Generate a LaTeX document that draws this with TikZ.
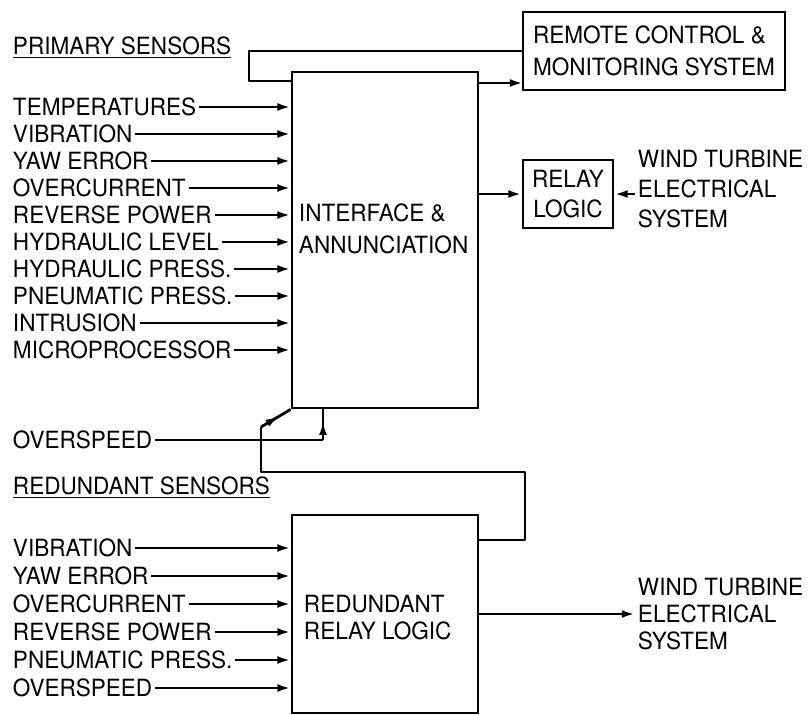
\documentclass[tikz,border=0pt]{standalone}
\usepackage{fontspec}
\setmainfont{TeX Gyre Heros}[FakeStretch=0.95]
\usepackage{tikz}
\usetikzlibrary{arrows.meta,positioning,calc,decorations.markings}

\begin{document}
\begin{tikzpicture}[>={Latex[length=7.5pt,width=4.5pt]},
  font=\fontsize{13.5}{16}\selectfont,
  blk/.style={draw,line width=1.6pt,inner sep=0pt},
  lbl/.style={anchor=west,inner sep=1.5pt},
  wire/.style={line width=1.6pt,line join=round},
  sig/.style={wire,->},
  midarr/.style={wire,postaction={decorate},
    decoration={markings,mark=at position 0.6 with {\arrow{>}}}}]
  \useasboundingbox (0,0) rectangle (16.22,-14.3);
  % blocks
  \node[blk,minimum width=3.72cm,minimum height=6.72cm] (iface) at (7.7,-4.8) {};
  \node[lbl,align=left,font=\fontsize{13.5}{18}\selectfont] (ifacetxt) at (5.92,-4.58) {INTERFACE \&\\ANNUNCIATION};
  \node[blk,minimum width=5.24cm,minimum height=1.56cm,align=left,font=\fontsize{13.5}{18.5}\selectfont] (remote) at (13.08,-1.02) {REMOTE CONTROL \&\\MONITORING SYSTEM};
  \node[blk,minimum width=1.8cm,minimum height=1.36cm,align=center,font=\fontsize{13.5}{17}\selectfont] (relay) at (11.36,-3.88) {RELAY\\LOGIC};
  \node[lbl,align=left,font=\fontsize{13.5}{17}\selectfont] (wtesa) at (12.7,-3.78) {WIND TURBINE\\ELECTRICAL\\SYSTEM};
  \node[blk,minimum width=3.72cm,minimum height=3.96cm] (redund) at (7.7,-12.28) {};
  \node[lbl,align=left,font=\fontsize{13.5}{15.5}\selectfont] (redundtxt) at (6.02,-12.35) {REDUNDANT\\RELAY LOGIC};
  \node[lbl,align=left,font=\fontsize{13.5}{15.6}\selectfont] (wtesb) at (12.7,-12.28) {WIND TURBINE\\ELECTRICAL\\SYSTEM};
  % sensor lists
  \node[lbl] (phead) at (0.2,-0.96) {\underline{PRIMARY SENSORS}};
  \node[lbl] (p1) at (0.2,-2.14) {TEMPERATURES};
  \node[lbl] (p2) at (0.2,-2.68) {VIBRATION};
  \node[lbl] (p3) at (0.2,-3.22) {YAW ERROR};
  \node[lbl] (p4) at (0.2,-3.76) {OVERCURRENT};
  \node[lbl] (p5) at (0.2,-4.30) {REVERSE POWER};
  \node[lbl] (p6) at (0.2,-4.84) {HYDRAULIC LEVEL};
  \node[lbl] (p7) at (0.2,-5.38) {HYDRAULIC PRESS.};
  \node[lbl] (p8) at (0.2,-5.92) {PNEUMATIC PRESS.};
  \node[lbl] (p9) at (0.2,-6.46) {INTRUSION};
  \node[lbl] (p10) at (0.2,-7.00) {MICROPROCESSOR};
  \node[lbl] (ospa) at (0.2,-8.80) {OVERSPEED};
  \node[lbl] (rhead) at (0.2,-9.76) {\underline{REDUNDANT SENSORS}};
  \node[lbl] (r1) at (0.2,-10.96) {VIBRATION};
  \node[lbl] (r2) at (0.2,-11.52) {YAW ERROR};
  \node[lbl] (r3) at (0.2,-12.08) {OVERCURRENT};
  \node[lbl] (r4) at (0.2,-12.64) {REVERSE POWER};
  \node[lbl] (r5) at (0.2,-13.20) {PNEUMATIC PRESS.};
  \node[lbl] (r6) at (0.2,-13.76) {OVERSPEED};
  % inputs
  \draw[sig] (p1.east) -- (p1 -| iface.west);
  \draw[sig] (p2.east) -- (p2 -| iface.west);
  \draw[sig] (p3.east) -- (p3 -| iface.west);
  \draw[sig] (p4.east) -- (p4 -| iface.west);
  \draw[sig] (p5.east) -- (p5 -| iface.west);
  \draw[sig] (p6.east) -- (p6 -| iface.west);
  \draw[sig] (p7.east) -- (p7 -| iface.west);
  \draw[sig] (p8.east) -- (p8 -| iface.west);
  \draw[sig] (p9.east) -- (p9 -| iface.west);
  \draw[sig] (p10.east) -- (p10 -| iface.west);
  \draw[sig] (r1.east) -- (r1 -| redund.west);
  \draw[sig] (r2.east) -- (r2 -| redund.west);
  \draw[sig] (r3.east) -- (r3 -| redund.west);
  \draw[sig] (r4.east) -- (r4 -| redund.west);
  \draw[sig] (r5.east) -- (r5 -| redund.west);
  \draw[sig] (r6.east) -- (r6 -| redund.west);
  % overspeed and contact
  \coordinate (osp) at (6.46,-8.80);
  \coordinate (sw) at (5.22,-9.44);
  \coordinate (swtop) at (5.22,-8.54);
  \coordinate (bend) at (10.5,-9.44);
  \coordinate (rout) at (10.5,-10.8);
  \draw[wire] (ospa.east) -- (osp);
  \draw[midarr] (osp) -- (osp |- iface.south);
  \draw[wire] (redund.east |- rout) -- (rout) -- (bend) -- (sw) -- (swtop);
  \draw[midarr] (swtop) -- (iface.south west);
  % outputs
  \coordinate (rcl) at (4.98,-1.62);
  \coordinate (rcin) at (10.46,-1.66);
  \draw[wire] (remote.west) -| (rcl) -- (rcl -| iface.west);
  \draw[sig] (rcin -| iface.east) -- (rcin);
  \draw[sig] (relay.west -| iface.east) -- (relay.west);
  \draw[sig] (relay.east -| wtesa.west) -- (relay.east);
  \draw[sig] (redund.east) -- (redund.east -| wtesb.west);
\end{tikzpicture}
\end{document}
